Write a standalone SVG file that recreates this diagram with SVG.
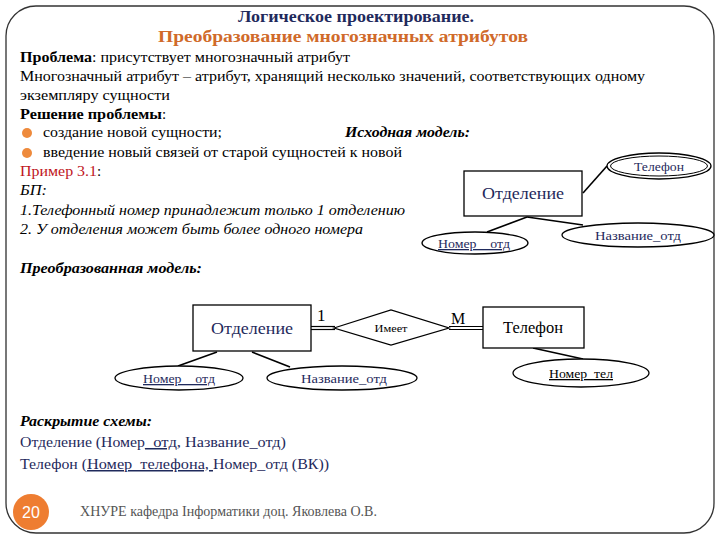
<svg xmlns="http://www.w3.org/2000/svg" width="720" height="540" viewBox="0 0 720 540">
<style>
.s{font-family:"Liberation Serif","DejaVu Serif",serif;}
.body{font-size:15px;fill:#000;}
.navy{fill:#1f2a5c;}
.ent{fill:#fff;stroke:#000;stroke-width:1.3;}
.attr{fill:#fff;stroke:#000;stroke-width:1.3;}
.ln{stroke:#000;stroke-width:1.6;fill:none;}
.lbl{font-size:13px;text-anchor:middle;}
.ename{font-size:16px;text-anchor:middle;}
.bul{fill:#ee8a3c;}
</style>
<rect width="720" height="540" fill="#fff"/>
<rect x="6" y="6" width="708" height="527" rx="30" ry="30" fill="none" stroke="#333" stroke-width="1.3"/>
<line x1="6" y1="40" x2="6" y2="500" stroke="#777" stroke-width="2"/>

<g id="header">
<text class="s" x="356" y="22" text-anchor="middle" font-size="16" font-weight="bold" fill="#1f2a5c" textLength="236" lengthAdjust="spacingAndGlyphs">Логическое проектирование.</text>
<text class="s" x="343" y="42" text-anchor="middle" font-size="16" font-weight="bold" fill="#d06a2a" textLength="370" lengthAdjust="spacingAndGlyphs">Преобразование многозначных атрибутов</text>
</g>

<g id="intro">
<text x="20" y="62" class="s body" font-weight="bold" textLength="72" lengthAdjust="spacingAndGlyphs">Проблема</text>
<text x="92" y="62" class="s body" textLength="258" lengthAdjust="spacingAndGlyphs">: присутствует многозначный атрибут</text>
<text x="20" y="81" class="s body" textLength="625" lengthAdjust="spacingAndGlyphs">Многозначный атрибут – атрибут, хранящий несколько значений, соответствующих одному</text>
<text x="20" y="100" class="s body" textLength="150" lengthAdjust="spacingAndGlyphs">экземпляру сущности</text>
<text x="20" y="119" class="s body" font-weight="bold" textLength="142" lengthAdjust="spacingAndGlyphs">Решение проблемы</text>
<text x="162" y="119" class="s body">:</text>
<circle class="bul" cx="27" cy="133" r="5"/>
<text x="43" y="137" class="s body" textLength="179" lengthAdjust="spacingAndGlyphs">создание новой сущности;</text>
<text x="345" y="137" class="s body" font-weight="bold" font-style="italic" textLength="125" lengthAdjust="spacingAndGlyphs">Исходная модель:</text>
<circle class="bul" cx="27" cy="153" r="5"/>
<text x="43" y="157" class="s body" textLength="359" lengthAdjust="spacingAndGlyphs">введение новый связей от старой сущностей к новой</text>
<text x="20" y="176" class="s body" style="fill:#c0141c" textLength="77" lengthAdjust="spacingAndGlyphs">Пример 3.1</text>
<text x="97" y="176" class="s body">:</text>
<text x="20" y="195" class="s body" font-style="italic" textLength="27" lengthAdjust="spacingAndGlyphs">БП:</text>
<text x="20" y="215" class="s body" font-style="italic" textLength="385" lengthAdjust="spacingAndGlyphs">1.Телефонный номер принадлежит только 1 отделению</text>
<text x="20" y="234" class="s body" font-style="italic" textLength="343" lengthAdjust="spacingAndGlyphs">2. У отделения может быть более одного номера</text>
<text x="20" y="273" class="s body" font-weight="bold" font-style="italic" textLength="182" lengthAdjust="spacingAndGlyphs">Преобразованная модель:</text>
</g>

<g id="connectors">
<line class="ln" x1="583" y1="193" x2="607" y2="166"/>
<line class="ln" x1="527" y1="217" x2="487" y2="232"/>
<line class="ln" x1="527" y1="217" x2="583" y2="225"/>
<line class="ln" x1="217" y1="352" x2="178" y2="366"/>
<line class="ln" x1="252" y1="352" x2="290" y2="367"/>
<line class="ln" x1="533" y1="348" x2="583" y2="359"/>
<line x1="311" y1="326.5" x2="335" y2="326.5" stroke="#000" stroke-width="1.2"/>
<line x1="311" y1="329.5" x2="335" y2="329.5" stroke="#000" stroke-width="1.2"/>
<line x1="449" y1="326.5" x2="483" y2="326.5" stroke="#000" stroke-width="1.2"/>
<line x1="449" y1="329.5" x2="483" y2="329.5" stroke="#000" stroke-width="1.2"/>
<text class="s" x="317" y="321" font-size="17">1</text>
<text class="s" x="451" y="324" font-size="16">M</text>
</g>

<g id="src-otdelenie">
<rect class="ent" x="464" y="171" width="118" height="45"/>
<text class="s ename navy" x="523" y="199" textLength="82" lengthAdjust="spacingAndGlyphs">Отделение</text>
</g>
<g id="src-telefon">
<ellipse class="attr" cx="659" cy="166" rx="52" ry="13"/>
<ellipse fill="none" stroke="#000" stroke-width="1" cx="659" cy="166" rx="48.5" ry="10"/>
<text class="s lbl navy" x="659" y="171" textLength="50" lengthAdjust="spacingAndGlyphs">Телефон</text>
</g>
<g id="src-nomer">
<ellipse class="attr" cx="475" cy="243" rx="53" ry="11"/>
<text class="s lbl navy" x="474" y="248" text-decoration="underline" textLength="72" lengthAdjust="spacingAndGlyphs">Номер__отд</text>
</g>
<g id="src-nazvanie">
<ellipse class="attr" cx="638" cy="235" rx="76" ry="12"/>
<text class="s lbl navy" x="638" y="240" textLength="86" lengthAdjust="spacingAndGlyphs">Название_отд</text>
</g>

<g id="otdelenie">
<rect class="ent" x="193" y="305" width="118" height="46"/>
<text class="s ename navy" x="252" y="334" textLength="82" lengthAdjust="spacingAndGlyphs">Отделение</text>
</g>
<g id="imeet">
<polygon class="ent" points="334,328 391,310 449,328 391,345"/>
<text class="s" x="391" y="332" font-size="11" text-anchor="middle" textLength="33" lengthAdjust="spacingAndGlyphs">Имеет</text>
</g>
<g id="telefon">
<rect class="ent" x="483" y="307" width="101" height="41"/>
<text class="s ename" x="533" y="333" textLength="60" lengthAdjust="spacingAndGlyphs">Телефон</text>
</g>
<g id="nomer-otd">
<ellipse class="attr" cx="179" cy="378" rx="64" ry="12"/>
<text class="s lbl navy" x="179" y="383" text-decoration="underline" textLength="72" lengthAdjust="spacingAndGlyphs">Номер__отд</text>
</g>
<g id="nazvanie-otd">
<ellipse class="attr" cx="342" cy="378" rx="75" ry="12"/>
<text class="s lbl navy" x="344" y="383" textLength="86" lengthAdjust="spacingAndGlyphs">Название_отд</text>
</g>
<g id="nomer-tel">
<ellipse class="attr" cx="581" cy="373" rx="68" ry="14"/>
<text class="s lbl" x="581" y="378" text-decoration="underline" textLength="64" lengthAdjust="spacingAndGlyphs">Номер_тел</text>
</g>

<g id="schema">
<text x="20" y="426" class="s body" font-weight="bold" font-style="italic" textLength="132" lengthAdjust="spacingAndGlyphs">Раскрытие схемы:</text>
<text x="20" y="447" class="s body navy" textLength="125" lengthAdjust="spacingAndGlyphs">Отделение (Номер</text>
<text x="145" y="447" class="s body navy" text-decoration="underline" textLength="36" lengthAdjust="spacingAndGlyphs">_отд,</text>
<text x="185" y="447" class="s body navy" textLength="101" lengthAdjust="spacingAndGlyphs">Название_отд)</text>
<text x="20" y="469" class="s body navy" textLength="67" lengthAdjust="spacingAndGlyphs">Телефон (</text>
<text x="87" y="469" class="s body navy" text-decoration="underline" textLength="126" lengthAdjust="spacingAndGlyphs">Номер_телефона,&#160;</text>
<text x="213" y="469" class="s body navy" textLength="116" lengthAdjust="spacingAndGlyphs">Номер_отд (ВК))</text>
</g>

<g id="footer">
<circle cx="31" cy="512" r="18" fill="#ee7d31"/>
<text x="31" y="518" text-anchor="middle" font-family="Liberation Sans, Arial, sans-serif" font-size="16" fill="#fff">20</text>
<text class="s" x="80" y="516" font-size="14" fill="#555" textLength="297" lengthAdjust="spacingAndGlyphs">ХНУРЕ кафедра Інформатики доц. Яковлева О.В.</text>
</g>
</svg>
